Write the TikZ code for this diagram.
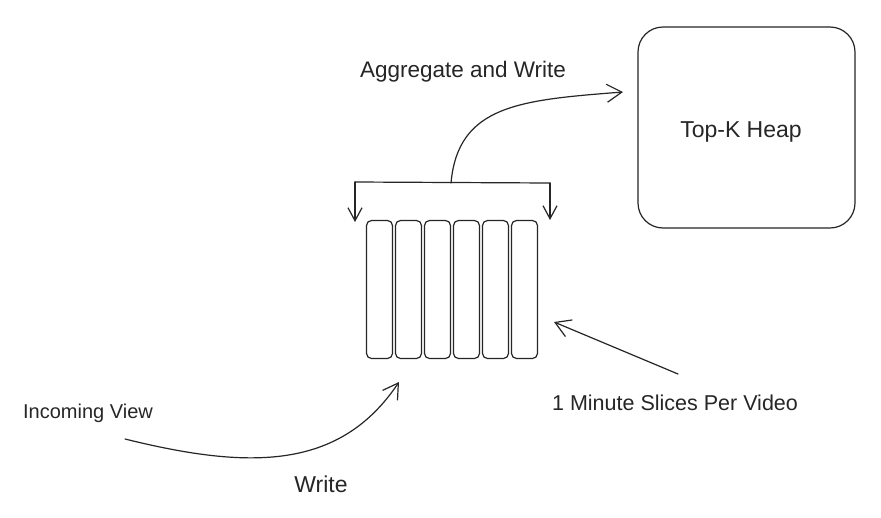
\documentclass[tikz,border=0pt]{standalone}
\usepackage{fontspec}
\setmainfont{Liberation Sans}
\usetikzlibrary{arrows.meta}
\begin{document}
\begin{tikzpicture}[x=1pt,y=-1pt,
  line/.style={draw=black!85,line width=1.2pt,line cap=round,line join=round},
  arr/.style={line,-{Straight Barb[length=15pt,width=18pt,line width=1.2pt]}},
  smallarr/.style={line,-{Straight Barb[length=13pt,width=14pt,line width=1.2pt]}},
  slot/.style={line,rounded corners=5pt,minimum width=26pt,minimum height=138pt,inner sep=0pt},
  heapbox/.style={line,rounded corners=25pt,minimum width=217pt,minimum height=201pt},
  lbl/.style={font=\fontsize{21}{25}\selectfont,text=black!85,inner sep=0pt}]
\useasboundingbox[fill=white] (0,0) rectangle (881,517);

% time slices
\node[slot] (s1) at (379.5,289.5) {};
\node[slot] (s2) at (408.5,289.5) {};
\node[slot] (s3) at (437.5,289.5) {};
\node[slot] (s4) at (466.5,289.5) {};
\node[slot] (s5) at (495.5,289.5) {};
\node[slot] (s6) at (524.5,289.5) {};

% heap
\node[heapbox] (heap) at (746.5,127.5) {};
\node[lbl,font=\fontsize{23}{27}\selectfont] (heaplbl) at (741,132) {Top-K Heap};

% labels
\node[lbl,font=\fontsize{22.5}{27}\selectfont] (agg) at (463,72) {Aggregate and Write};
\node[lbl,font=\fontsize{20}{24}\selectfont] (incoming) at (88,413) {Incoming View};
\node[lbl,font=\fontsize{23}{27}\selectfont] (write) at (321,484) {Write};
\node[lbl,font=\fontsize{21.5}{26}\selectfont] (slices) at (675,403) {1 Minute Slices Per Video};

% bracket
\coordinate (bl) at (355,182);
\coordinate (br) at (550,183);
\coordinate (blt) at (355,222);
\coordinate (brt) at (550,220);
\draw[line] (bl) -- (br);
\draw[smallarr] (bl) -- (blt);
\draw[smallarr] (br) -- (brt);

% aggregate arrow
\coordinate (aggs) at (451,183);
\coordinate (agge) at (623,92);
\draw[arr] (aggs) .. controls (458,105) and (520,100) .. (agge);

% incoming arrow
\coordinate (ins) at (125,439);
\coordinate (ine) at (399,382);
\draw[arr] (ins) .. controls (250,470) and (340,470) .. (ine);

% slices arrow
\coordinate (sls) at (678,374);
\coordinate (sle) at (554,322);
\draw[arr] (sls) -- (sle);
\end{tikzpicture}
\end{document}
